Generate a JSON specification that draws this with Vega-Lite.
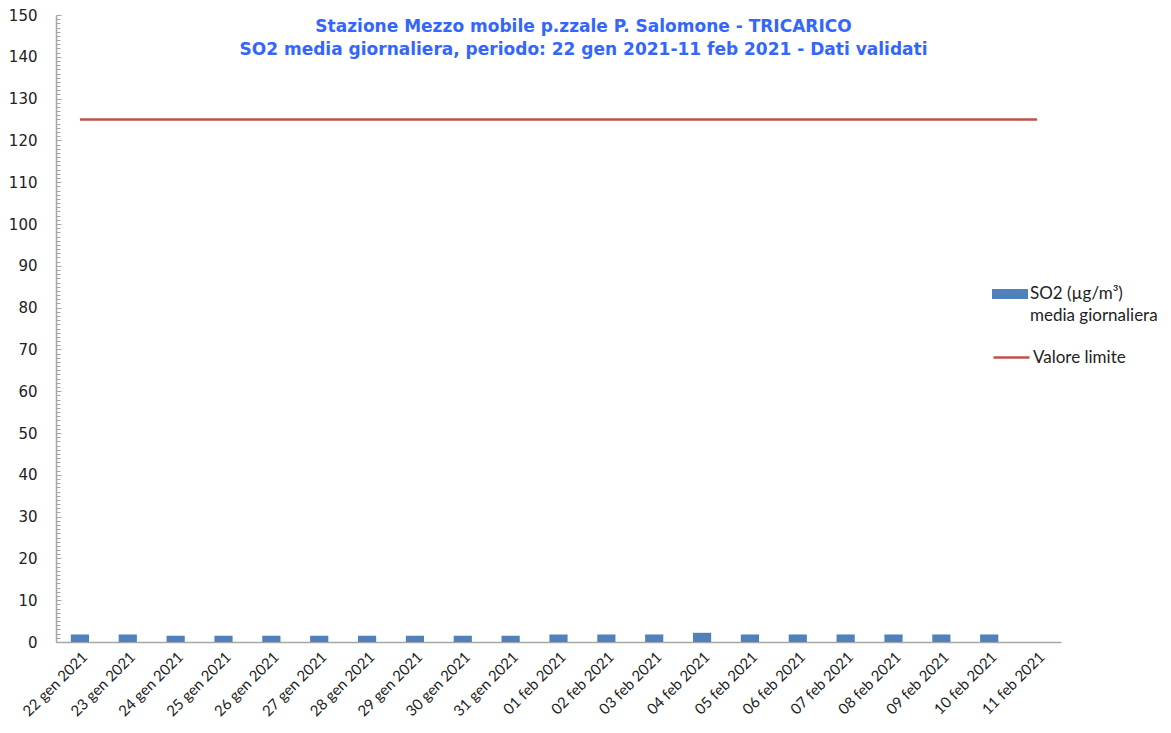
{
  "$schema": "https://vega.github.io/schema/vega-lite/v6.json",
  "width": 1005,
  "height": 627,
  "autosize": {"type": "none"},
  "padding": {"left": 56, "top": 15, "right": 110, "bottom": 91},
  "background": "white",
  "title": {
    "text": ["Stazione Mezzo mobile p.zzale P. Salomone  - TRICARICO", "SO2 media giornaliera,  periodo: 22 gen 2021-11 feb 2021  - Dati validati"],
    "anchor": "middle",
    "frame": "group",
    "orient": "top",
    "baseline": "top",
    "offset": -2,
    "dx": 25,
    "dy": 49,
    "font": "DejaVu Sans",
    "fontSize": 17,
    "fontWeight": "bold",
    "color": "#3366FF",
    "lineHeight": 23
  },
  "data": {
    "values": [
      {"date": "22 gen 2021", "so2": 1.8, "limit": 125},
      {"date": "23 gen 2021", "so2": 1.8, "limit": 125},
      {"date": "24 gen 2021", "so2": 1.5, "limit": 125},
      {"date": "25 gen 2021", "so2": 1.5, "limit": 125},
      {"date": "26 gen 2021", "so2": 1.5, "limit": 125},
      {"date": "27 gen 2021", "so2": 1.5, "limit": 125},
      {"date": "28 gen 2021", "so2": 1.5, "limit": 125},
      {"date": "29 gen 2021", "so2": 1.5, "limit": 125},
      {"date": "30 gen 2021", "so2": 1.5, "limit": 125},
      {"date": "31 gen 2021", "so2": 1.5, "limit": 125},
      {"date": "01 feb 2021", "so2": 1.8, "limit": 125},
      {"date": "02 feb 2021", "so2": 1.8, "limit": 125},
      {"date": "03 feb 2021", "so2": 1.8, "limit": 125},
      {"date": "04 feb 2021", "so2": 2.2, "limit": 125},
      {"date": "05 feb 2021", "so2": 1.8, "limit": 125},
      {"date": "06 feb 2021", "so2": 1.8, "limit": 125},
      {"date": "07 feb 2021", "so2": 1.8, "limit": 125},
      {"date": "08 feb 2021", "so2": 1.8, "limit": 125},
      {"date": "09 feb 2021", "so2": 1.8, "limit": 125},
      {"date": "10 feb 2021", "so2": 1.8, "limit": 125},
      {"date": "11 feb 2021", "so2": null, "limit": 125}
    ]
  },
  "encoding": {
    "x": {
      "field": "date",
      "type": "nominal",
      "sort": null,
      "scale": {"paddingInner": 0.62, "paddingOuter": 0.31},
      "axis": {
        "title": null,
        "labelAngle": -45,
        "labelFont": "Lato",
        "labelFontSize": 15,
        "labelColor": "#222222",
        "labelPadding": 7,
        "ticks": false,
        "domainColor": "#A6A6A6",
        "domainWidth": 1.5,
        "grid": false
      }
    }
  },
  "layer": [
    {
      "mark": {"type": "bar"},
      "encoding": {
        "y": {
          "field": "so2",
          "type": "quantitative",
          "scale": {"domain": [0, 150], "nice": false},
          "axis": {
            "title": null,
            "values": [0, 10, 20, 30, 40, 50, 60, 70, 80, 90, 100, 110, 120, 130, 140, 150],
            "grid": false,
            "labelFont": "DejaVu Sans",
            "labelFontSize": 15,
            "labelColor": "#222222",
            "labelPadding": 24,
            "tickSize": -5,
            "tickColor": "#A6A6A6",
            "domainColor": "#A6A6A6",
            "domainWidth": 1.5
          }
        },
        "fill": {
          "datum": "SO2",
          "type": "nominal",
          "scale": {"domain": ["SO2"], "range": ["#4F81BD"]},
          "legend": {
            "title": null,
            "orient": "none",
            "legendX": 936,
            "legendY": 261,
            "symbolType": "M-1,-0.28H1V0.28H-1Z",
            "symbolSize": 1296,
            "symbolStrokeWidth": 0,
            "labelFont": "Lato",
            "labelFontSize": 17,
            "labelColor": "#222222",
            "labelOffset": 2,
            "labelBaseline": "middle",
            "labelLimit": 200,
            "labelExpr": "['SO2 (µg/m³)', 'media giornaliera']"
          }
        }
      }
    },
    {
      "mark": {"type": "line", "strokeWidth": 2.5},
      "encoding": {
        "y": {
          "field": "limit",
          "type": "quantitative",
          "scale": {"domain": [0, 150], "nice": false},
          "axis": {
            "orient": "left",
            "title": null,
            "labels": false,
            "grid": false,
            "domain": false,
            "tickCount": 150,
            "tickSize": -4,
            "tickColor": "#A6A6A6"
          }
        },
        "stroke": {
          "datum": "Valore limite",
          "type": "nominal",
          "scale": {"domain": ["Valore limite"], "range": ["#C0504D"]},
          "legend": {
            "title": null,
            "orient": "none",
            "legendX": 936,
            "legendY": 323,
            "symbolType": "stroke",
            "symbolSize": 1296,
            "symbolStrokeWidth": 2.5,
            "labelFont": "Lato",
            "labelFontSize": 17,
            "labelColor": "#222222",
            "labelOffset": 2
          }
        }
      }
    }
  ],
  "resolve": {"axis": {"y": "independent"}},
  "config": {"view": {"stroke": null}, "style": {"guide-label": {"lineHeight": 22}}}
}
